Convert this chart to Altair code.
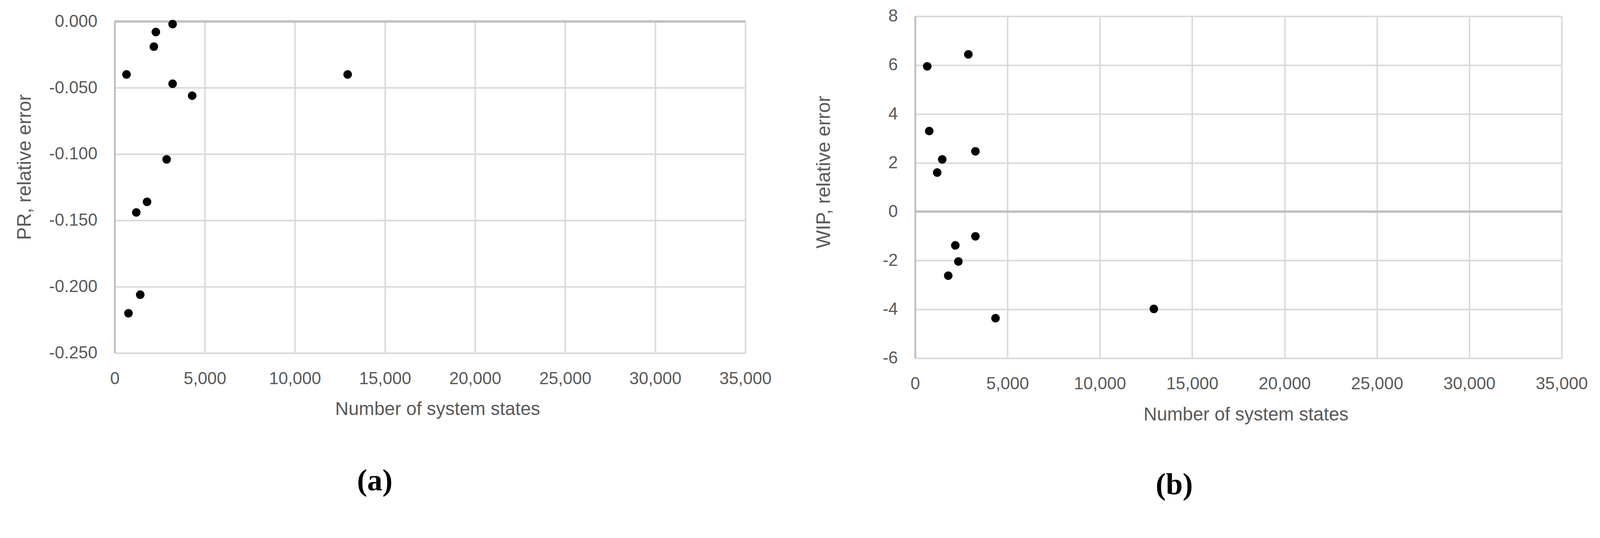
import altair as alt
import pandas as pd

# ---- data ----
states_a = [3213, 2283, 2173, 654, 3213, 4299, 2882, 1795, 1197, 1417, 764, 12930]
pr_error = [-0.002, -0.008, -0.019, -0.040, -0.047, -0.056, -0.104, -0.136, -0.144, -0.206, -0.220, -0.040]

states_b = [2882, 656, 764, 3264, 1470, 1196, 3264, 2176, 2342, 1794, 4352, 12924]
wip_error = [6.44, 5.95, 3.30, 2.47, 2.14, 1.60, -1.01, -1.38, -2.04, -2.62, -4.36, -3.98]

x_ticks = [0, 5000, 10000, 15000, 20000, 25000, 30000, 35000]
pr_ticks = [0, -0.05, -0.10, -0.15, -0.20, -0.25]
wip_ticks = [-6, -4, -2, 0, 2, 4, 6, 8]

FONT = "Liberation Sans"
SERIF = "Liberation Serif"
TXT = "#595959"
GRID = "#d9d9d9"
AXIS = "#bfbfbf"


def panel(states, errs, ytitle, ydomain, yticks, label_expr, w, h,
          caption, cap_dx, cap_offset, ytitle_x, ytitle_y):
    df = pd.DataFrame({"states": states, "err": errs})
    x_enc = alt.X(
        "states:Q",
        scale=alt.Scale(domain=[0, 35000], nice=False),
        axis=alt.Axis(
            values=x_ticks, format=",d", title="Number of system states",
            grid=True, gridColor=GRID, gridWidth=4, domain=False,
            ticks=False, tickSize=0, labelPadding=47, labelFlush=False,
            labelFont=FONT, labelFontSize=46, labelColor=TXT,
            titleFont=FONT, titleFontSize=50, titleColor=TXT,
            titleFontWeight="normal", titleBaseline="alphabetic",
            titleY=167, titleX=w / 2 + 20,
        ),
    )
    y_enc = alt.Y(
        "err:Q",
        scale=alt.Scale(domain=ydomain, nice=False, zero=False),
        axis=alt.Axis(
            values=yticks, labelExpr=label_expr, title=ytitle,
            grid=True, gridColor=GRID, gridWidth=4,
            domain=True, domainColor=AXIS, domainWidth=5,
            ticks=False, tickSize=0, labelPadding=47, labelFlush=False,
            labelFont=FONT, labelFontSize=46, labelColor=TXT,
            titleFont=FONT, titleFontSize=52, titleColor=TXT,
            titleFontWeight="normal", titleX=ytitle_x, titleY=ytitle_y,
        ),
    )
    zero = alt.Chart(df).mark_rule(color=AXIS, strokeWidth=5).encode(
        y=alt.datum(0)
    )
    pts = alt.Chart(df).mark_circle(size=530, color="black", opacity=1).encode(
        x=x_enc, y=y_enc
    )
    return alt.layer(zero, pts).properties(
        width=w, height=h,
        title=alt.TitleParams(
            text=caption, orient="bottom", anchor="middle", font=SERIF,
            fontSize=82, fontWeight="bold", color="black", offset=cap_offset,
            dx=cap_dx, baseline="alphabetic",
        ),
    )


minus_fix_a = "replace(format(datum.value, '.3f'), '\u2212', '-')"
minus_fix_b = "replace(format(datum.value, 'd'), '\u2212', '-')"

chart_a = panel(states_a, pr_error, "PR, relative error", [-0.25, 0], pr_ticks,
                minus_fix_a, 1701, 895, "(a)", -149, 194, -216, 393)
chart_b = panel(states_b, wip_error, "WIP, relative error", [-6, 8], wip_ticks,
                minus_fix_b, 1744, 923, "(b)", -173, 190, -219, 420)

chart = alt.hconcat(chart_a, chart_b, spacing=458, bounds="flush", center=True).properties(
    padding={"left": 32, "top": -23, "right": 24, "bottom": 12}
).configure_view(stroke=None)

chart.save("out.html", embed_options={"renderer": "svg", "actions": False})
